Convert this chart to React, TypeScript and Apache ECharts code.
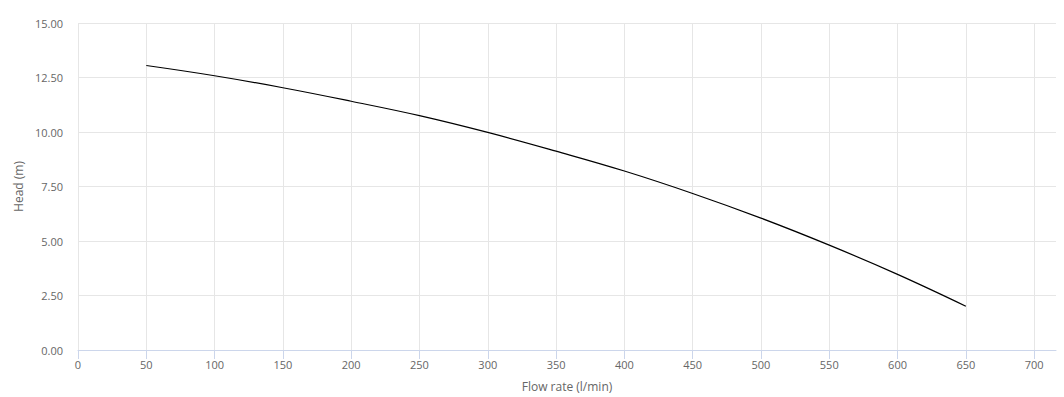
import React, { useEffect, useRef } from "react";
import * as echarts from "echarts";

const flowRates = [50, 100, 150, 200, 250, 300, 350, 400, 450, 500, 550, 600, 650];
const heads = [13.05, 12.58, 12.03, 11.41, 10.75, 9.98, 9.12, 8.21, 7.18, 6.05, 4.81, 3.47, 2.01];
const xTickValues = [0, 50, 100, 150, 200, 250, 300, 350, 400, 450, 500, 550, 600, 650, 700];
const xTitle = "Flow rate (l/min)";
const yTitle = "Head (m)";

export default function App() {
  const ref = useRef<HTMLDivElement>(null);
  useEffect(() => {
    if (!ref.current) return;
    const chart = echarts.init(ref.current, undefined, { renderer: "svg" });
    const font = "'Open Sans', 'Noto Sans', sans-serif";
    chart.setOption({
      animation: false,
      textStyle: { fontFamily: font },
      grid: { left: 78, right: 8, top: 23, bottom: 43 },
      xAxis: {
        type: "value",
        min: 0,
        max: 716,
        interval: 50,
        name: xTitle,
        nameLocation: "middle",
        nameGap: 30,
        nameTextStyle: { color: "#666", fontSize: 12, fontFamily: font },
        axisLine: { show: true, lineStyle: { color: "#ccd6eb", width: 1 } },
        axisTick: { show: true, length: 9, customValues: xTickValues, lineStyle: { color: "#ccd6eb" } },
        axisLabel: { color: "#666", fontSize: 11, margin: 9, customValues: xTickValues, showMaxLabel: true, fontFamily: font },
        splitLine: { show: true, showMaxLine: true, lineStyle: { color: "#e6e6e6", width: 1 } },
      },
      yAxis: {
        type: "value",
        min: 0,
        max: 15,
        interval: 2.5,
        name: yTitle,
        nameLocation: "middle",
        nameGap: 52,
        nameRotate: 90,
        nameTextStyle: { color: "#666", fontSize: 12, fontFamily: font },
        axisLine: { show: false },
        axisTick: { show: false },
        axisLabel: {
          color: "#666",
          fontSize: 11,
          margin: 15,
          fontFamily: font,
          formatter: (v: number) => v.toFixed(2),
        },
        splitLine: { show: true, lineStyle: { color: "#e6e6e6", width: 1 } },
      },
      series: [
        {
          type: "line",
          data: flowRates.map((x, i) => [x, heads[i]]),
          smooth: 0.4,
          showSymbol: false,
          lineStyle: { color: "#000", width: 1.2 },
        },
      ],
    });
    return () => chart.dispose();
  }, []);
  return <div ref={ref} style={{ width: 1064, height: 397, position: "absolute", left: 0, top: 0 }} />;
}
